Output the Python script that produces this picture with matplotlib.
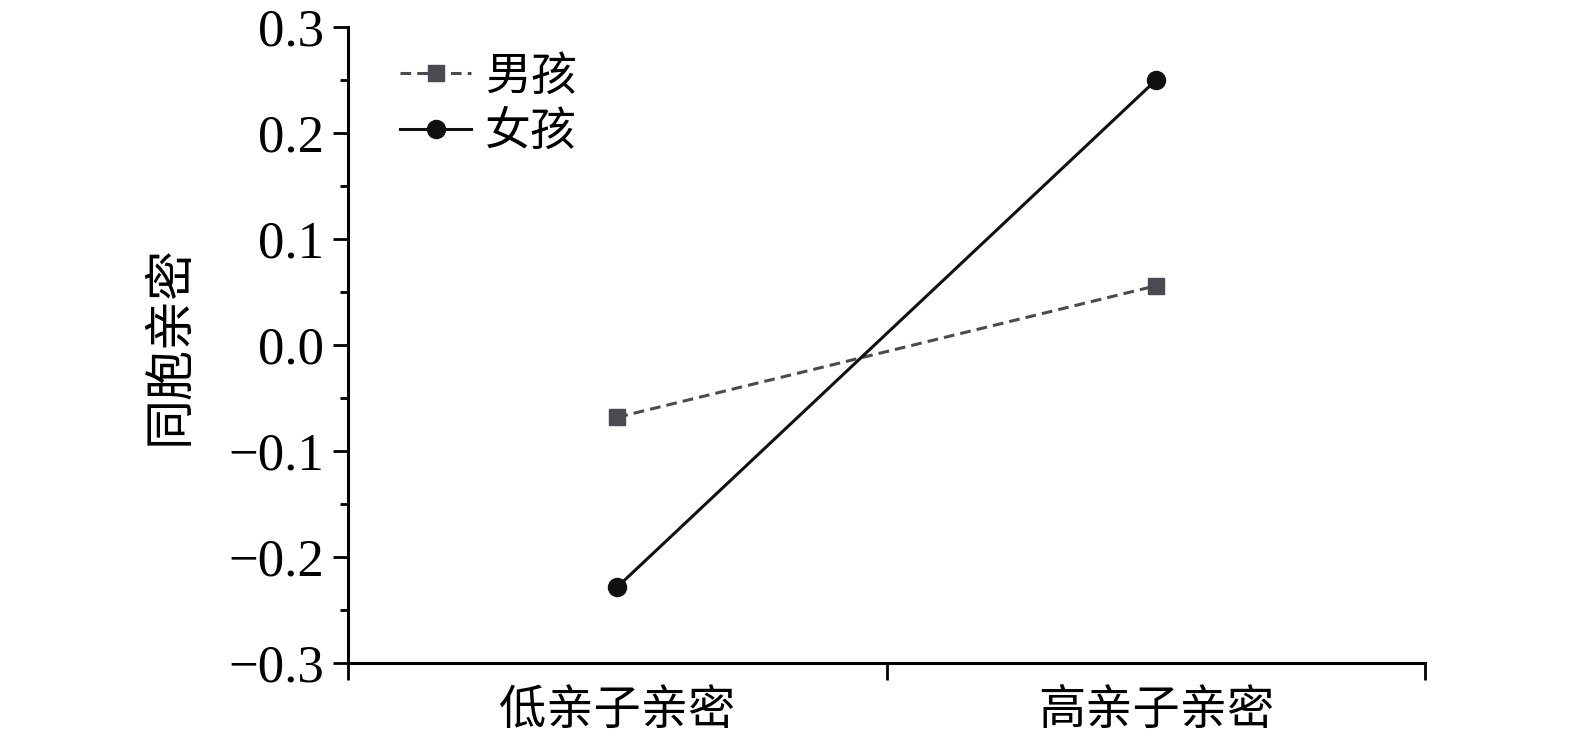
import matplotlib
matplotlib.use("Agg")
import matplotlib.pyplot as plt
from matplotlib.ticker import MultipleLocator, FixedLocator, NullFormatter

plt.rcParams['font.family'] = ['Liberation Serif', 'Noto Sans CJK SC']
cjk = ['Noto Sans CJK SC', 'DejaVu Sans']

groups = ['低亲子亲密', '高亲子亲密']
boys = [-0.068, 0.056]
girls = [-0.228, 0.250]
yticks = [-0.3, -0.2, -0.1, 0.0, 0.1, 0.2, 0.3]
yticklabels = ['\u22120.3', '\u22120.2', '\u22120.1', '0.0', '0.1', '0.2', '0.3']

fig = plt.figure(figsize=(15.75, 7.52), dpi=100)
ax = fig.add_axes([0.221, 0.118, 0.684, 0.846])

xpos = [0.5, 1.5]
ax.plot(xpos, boys, ls='--', color='#4a4a52', lw=2.2, marker='s', ms=11,
        dashes=(3.5, 2), label='男孩')
ax.plot(xpos, girls, ls='-', color='#111111', lw=2.2, marker='o', ms=13,
        label='女孩')

ax.set_xlim(0, 2)
ax.set_ylim(-0.3, 0.3)
ax.xaxis.set_major_locator(FixedLocator([0, 1, 2]))
ax.xaxis.set_major_formatter(NullFormatter())
ax.xaxis.set_minor_locator(FixedLocator(xpos))
ax.set_xticklabels(groups, minor=True, family=cjk, fontsize=34, fontweight='light')
ax.tick_params(axis='x', which='minor', length=0, pad=17)
ax.tick_params(axis='x', which='major', direction='out', length=12, width=2)

ax.set_yticks(yticks)
ax.set_yticklabels(yticklabels, fontsize=38)
ax.yaxis.set_minor_locator(MultipleLocator(0.05))
ax.tick_params(axis='y', which='major', direction='out', length=11, width=2, pad=6)
ax.tick_params(axis='y', which='minor', direction='out', length=6, width=2)

ax.set_ylabel('同胞亲密', family=cjk, fontsize=36, fontweight='light', labelpad=24)

for s in ['top', 'right']:
    ax.spines[s].set_visible(False)
for s in ['left', 'bottom']:
    ax.spines[s].set_linewidth(2.2)

leg = ax.legend(loc='upper left', bbox_to_anchor=(0.01, 1.026), frameon=False,
                prop={'family': cjk, 'size': 33, 'weight': 'light'},
                handlelength=1.55, handletextpad=0.3, labelspacing=0.15)

fig.savefig('out.png', dpi=100)
